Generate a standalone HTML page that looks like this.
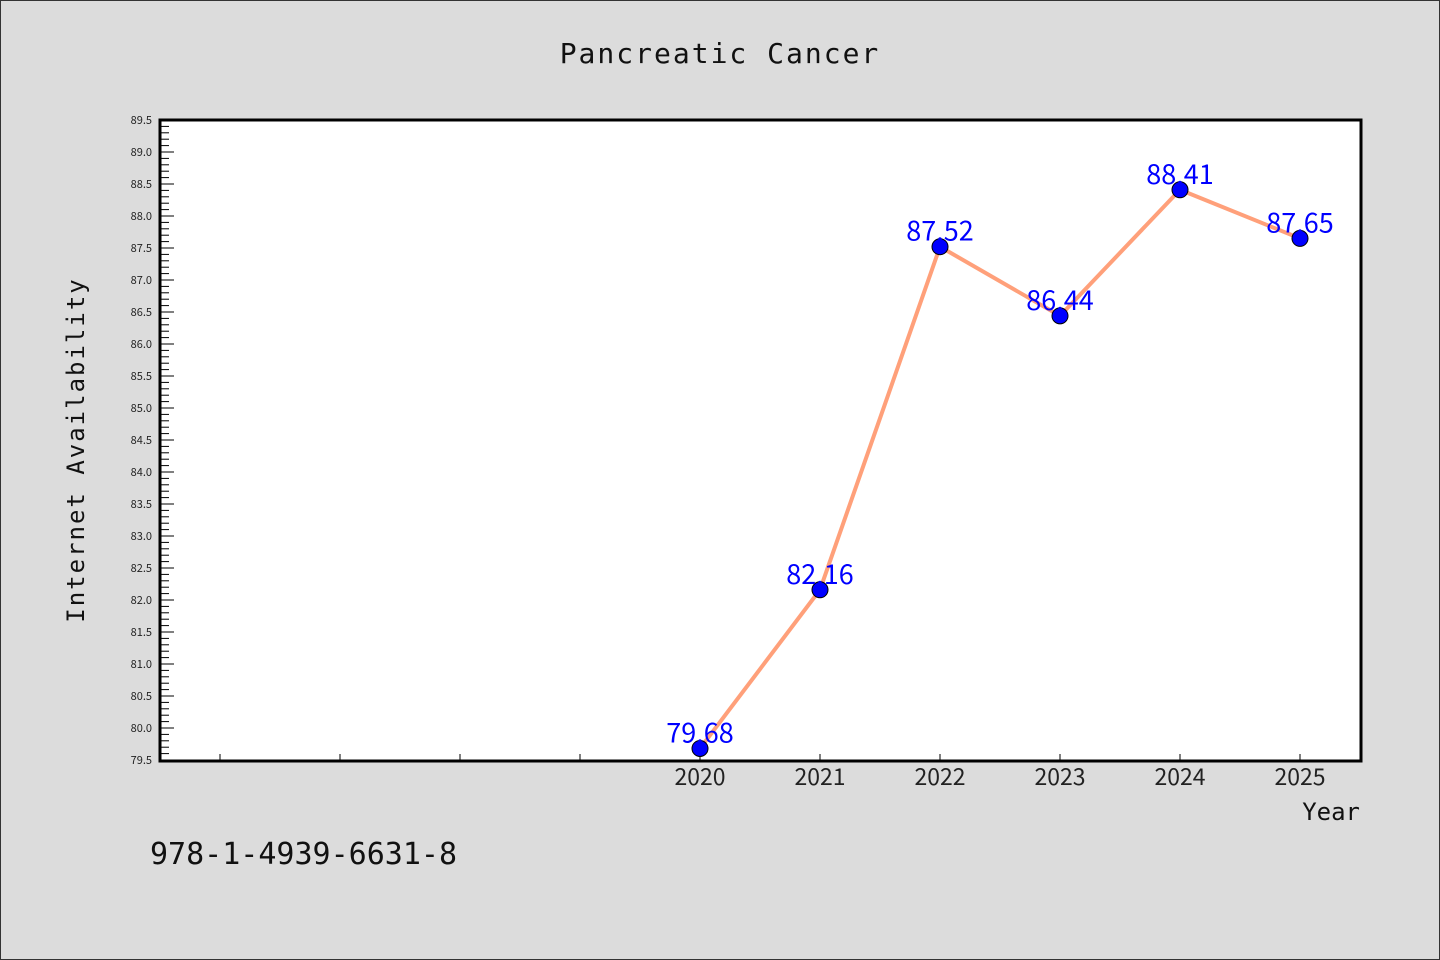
<!DOCTYPE html>
<html><head><meta charset="utf-8"><style>
body{margin:0;background:#dcdcdc;}
svg{display:block;font-family:"Noto Sans CJK JP","DejaVu Sans",sans-serif;}
</style></head><body>
<svg id="chart" width="1440" height="960">
<rect x="0.5" y="0.5" width="1439" height="959" fill="#dcdcdc" stroke="#333"/>
<text x="720" y="63" text-anchor="middle" font-size="28" letter-spacing="2" fill="#111" font-family="DejaVu Sans Mono,monospace">Pancreatic Cancer</text>
<rect x="160" y="120" width="1201" height="641" fill="#fff" stroke="#000" stroke-width="3"/>
<g id="yaxis"></g>
<g id="xaxis"></g>
<text transform="translate(84,450) rotate(-90)" text-anchor="middle" font-size="24" letter-spacing="2" fill="#111" font-family="DejaVu Sans Mono,monospace">Internet Availability</text>
<text x="1360" y="820" text-anchor="end" font-size="24" fill="#111" font-family="DejaVu Sans Mono,monospace">Year</text>
<text x="150" y="864" font-size="30" fill="#111" font-family="DejaVu Sans Mono,monospace">978-1-4939-6631-8</text>
<g id="series"></g>
</svg>
<script>
const years=[2020,2021,2022,2023,2024,2025];
const values=[79.68,82.16,87.52,86.44,88.41,87.65];
const yTicks=[79.5,80.0,80.5,81.0,81.5,82.0,82.5,83.0,83.5,84.0,84.5,85.0,85.5,86.0,86.5,87.0,87.5,88.0,88.5,89.0,89.5];
const xTickYears=[2016,2017,2018,2019,2020,2021,2022,2023,2024,2025];
const NS='http://www.w3.org/2000/svg';
const X=v=>160+(v-2015.5)*120;
const Y=v=>760-(v-79.5)*64;
function mk(tag,attrs,parent,text){const e=document.createElementNS(NS,tag);for(const k in attrs)e.setAttribute(k,attrs[k]);if(text!==undefined)e.textContent=text;parent.appendChild(e);return e;}
const ya=document.getElementById('yaxis');
for(let i=0;i<=100;i++){const v=79.5+i*0.1;const y=Y(v);const major=i%5===0;
 const t=mk('line',{x1:160,x2:major?174:169,y1:y,y2:y,stroke:'#000','stroke-width':1},ya);
 
 }
yTicks.forEach(v=>{const t=mk('text',{x:152,y:Y(v)+4,'text-anchor':'end','font-size':11,fill:'#222'},ya,v.toFixed(1));
 
 });
const xa=document.getElementById('xaxis');
xTickYears.forEach(v=>{const l=mk('line',{x1:X(v),x2:X(v),y1:760,y2:754,stroke:'#000','stroke-width':1},xa);
 
 });
years.forEach(v=>{const t=mk('text',{x:X(v),y:785,'text-anchor':'middle','font-size':23,fill:'#222'},xa,String(v));
 
 });
const s=document.getElementById('series');
const pl=mk('polyline',{points:years.map((y,i)=>X(y)+','+Y(values[i])).join(' '),fill:'none',stroke:'#ffa07a','stroke-width':4},s);


years.forEach((y,i)=>{const c=mk('circle',{cx:X(y),cy:Y(values[i]),r:8,fill:'#0000ff',stroke:'#000','stroke-width':1},s);
 
 });
years.forEach((y,i)=>{const t=mk('text',{x:X(y),y:Y(values[i])-6,'text-anchor':'middle','font-size':27,fill:'#0000ff'},s,values[i].toFixed(2));
 
 });
</script>
</body></html>
